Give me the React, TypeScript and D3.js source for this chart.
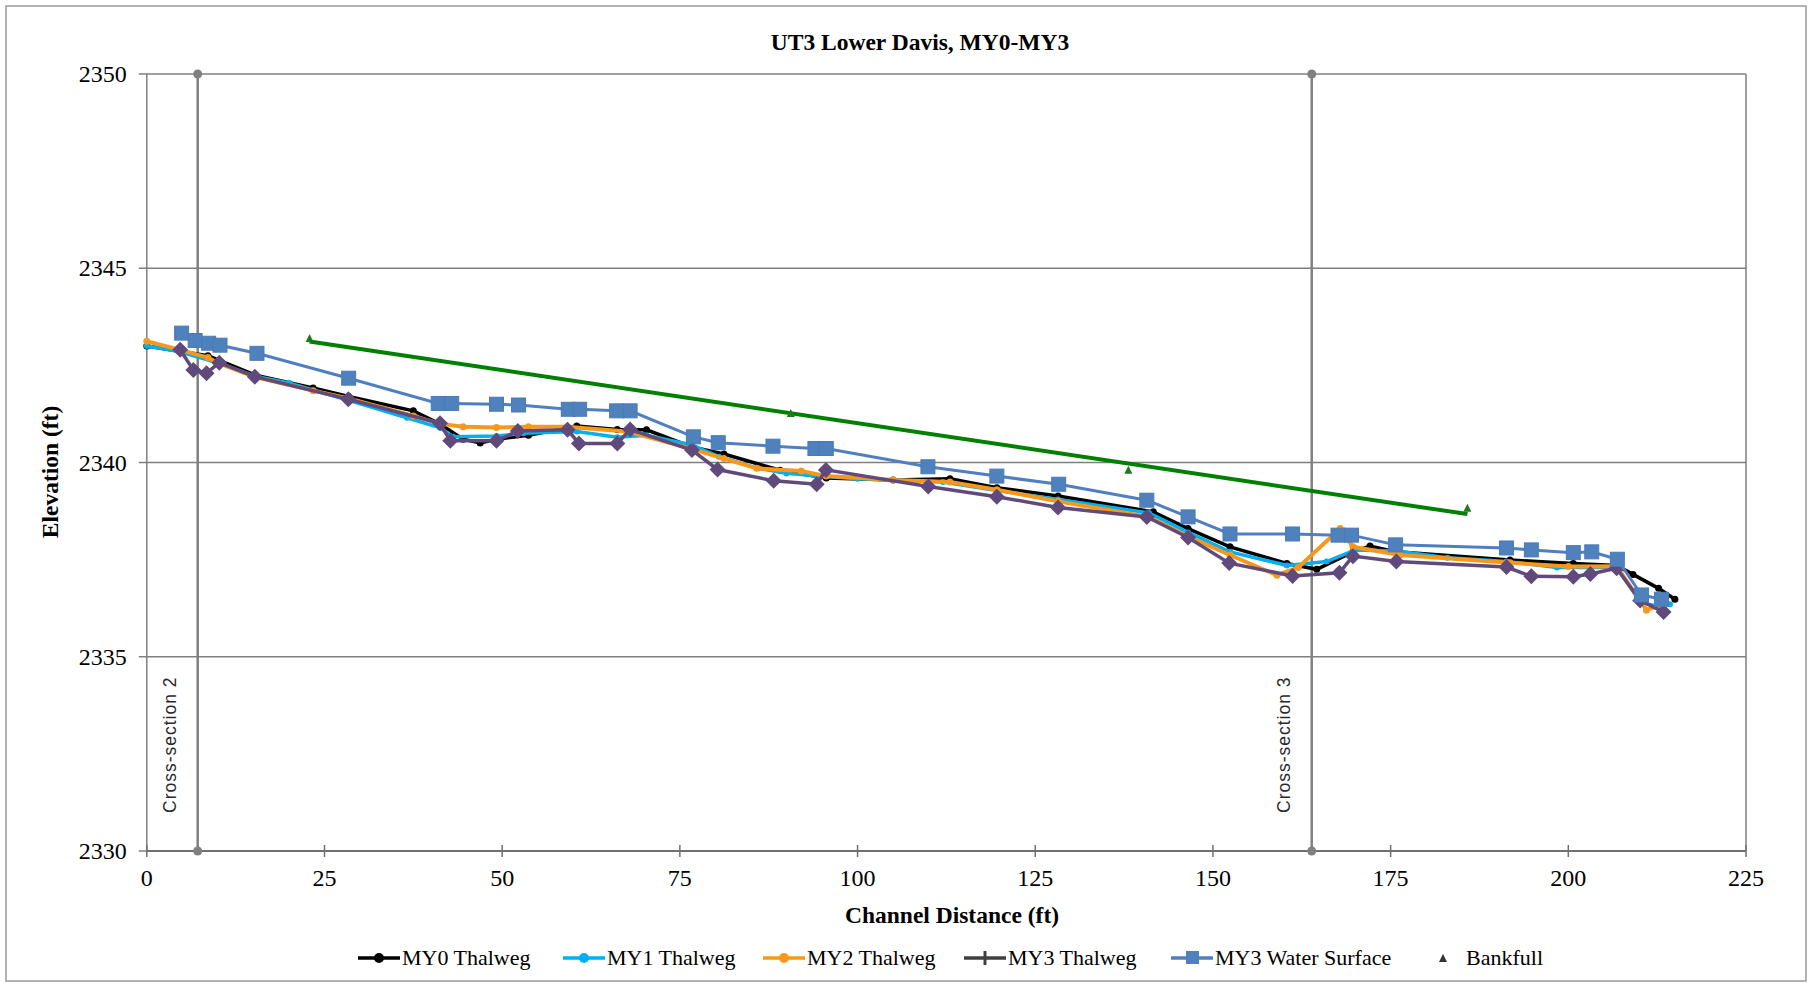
import * as d3 from 'd3';

// MY0 Thalweg [distance, elevation]
const my0Thalweg: [number, number][] = [
  [0, 2343.0], [8.6, 2342.75], [15.3, 2342.25], [23.4, 2341.92], [28.4, 2341.7], [37.5, 2341.33],
  [41.2, 2341.0], [44.5, 2340.6], [46.9, 2340.5], [49.2, 2340.6], [53.7, 2340.7], [60.5, 2340.94],
  [66.2, 2340.85], [70.3, 2340.84], [76.7, 2340.4], [81.2, 2340.22], [89.1, 2339.8], [95.6, 2339.6],
  [105.0, 2339.55], [113.0, 2339.58], [119.6, 2339.35], [128.2, 2339.14], [141.6, 2338.73],
  [146.5, 2338.3], [152.4, 2337.83], [160.4, 2337.4], [164.6, 2337.25], [169.7, 2337.7],
  [172.1, 2337.85], [175.8, 2337.7], [191.8, 2337.49], [200.7, 2337.4], [206.8, 2337.35],
  [209.1, 2337.12], [212.7, 2336.76], [215.0, 2336.48],
];

const my1Thalweg: [number, number][] = [
  [0, 2343.0], [4.7, 2342.85], [10.2, 2342.55], [15.2, 2342.22], [20, 2342.05], [28.4, 2341.6],
  [36.6, 2341.15], [41.2, 2340.9], [43.1, 2340.66], [49.2, 2340.68], [53, 2340.75], [60.5, 2340.8],
  [66.2, 2340.65], [70.3, 2340.7], [76.7, 2340.45], [80.5, 2340.15], [86, 2339.85], [90, 2339.72],
  [94.3, 2339.65], [100, 2339.58], [105, 2339.55], [112, 2339.5], [119.6, 2339.28], [128.2, 2339.05],
  [141, 2338.7], [146.5, 2338.2], [152.4, 2337.7], [160.4, 2337.35], [166, 2337.45], [170, 2337.75],
  [175.8, 2337.72], [183, 2337.55], [191.3, 2337.45], [198.4, 2337.3], [206.8, 2337.3],
  [210.2, 2336.4], [212.5, 2336.3], [214.3, 2336.35],
];

const my2Thalweg: [number, number][] = [
  [0, 2343.12], [4.7, 2342.9], [8.6, 2342.7], [10.2, 2342.55], [15.2, 2342.2], [23.4, 2341.85],
  [28.4, 2341.65], [37.5, 2341.2], [41.2, 2341.0], [44.5, 2340.92], [49.2, 2340.9], [53.7, 2340.92],
  [59.1, 2340.92], [67.5, 2340.8], [76.7, 2340.35], [81.2, 2340.1], [85.8, 2339.85], [92.1, 2339.78],
  [95.6, 2339.65], [105, 2339.55], [113, 2339.5], [119.6, 2339.3], [128.2, 2339.0], [141, 2338.6],
  [146.5, 2338.1], [152.4, 2337.62], [159, 2337.1], [162, 2337.3], [167.9, 2338.3], [169.7, 2337.83],
  [176.3, 2337.62], [191.8, 2337.42], [200, 2337.32], [206.8, 2337.33], [211, 2336.2], [213.2, 2336.35],
];

const my3Thalweg: [number, number][] = [
  [4.7, 2342.9], [6.55, 2342.38], [8.4, 2342.3], [10.2, 2342.57], [15.2, 2342.21], [28.35, 2341.63],
  [41.25, 2341.01], [42.7, 2340.56], [49.2, 2340.56], [52.2, 2340.81], [59.2, 2340.84], [60.8, 2340.49],
  [66.2, 2340.49], [68.0, 2340.85], [76.7, 2340.32], [80.3, 2339.82], [88.2, 2339.53], [94.25, 2339.44],
  [95.55, 2339.81], [109.95, 2339.38], [119.6, 2339.12], [128.2, 2338.84], [140.7, 2338.6],
  [146.5, 2338.07], [152.3, 2337.41], [161.2, 2337.08], [167.8, 2337.16], [169.7, 2337.59],
  [175.8, 2337.45], [191.3, 2337.31], [194.8, 2337.07], [200.7, 2337.06], [203.1, 2337.13],
  [206.8, 2337.28], [210.1, 2336.45], [213.4, 2336.15],
];

const my3WaterSurface: [number, number][] = [
  [4.9, 2343.33], [6.8, 2343.14], [8.7, 2343.07], [10.3, 2343.02], [15.5, 2342.81], [28.4, 2342.17],
  [41.0, 2341.52], [42.9, 2341.52], [49.2, 2341.5], [52.3, 2341.48], [59.3, 2341.37], [60.9, 2341.37],
  [66.1, 2341.33], [68.0, 2341.33], [76.9, 2340.66], [80.4, 2340.51], [88.1, 2340.42], [94.0, 2340.36],
  [95.6, 2340.36], [109.9, 2339.89], [119.6, 2339.65], [128.3, 2339.44], [140.7, 2339.03],
  [146.5, 2338.6], [152.4, 2338.16], [161.2, 2338.16], [167.6, 2338.13], [169.5, 2338.13],
  [175.7, 2337.88], [191.3, 2337.8], [194.8, 2337.75], [200.7, 2337.68], [203.3, 2337.7],
  [206.9, 2337.51], [210.3, 2336.59], [213.1, 2336.48],
];

const bankfull: [number, number][] = [
  [22.9, 2343.18], [90.6, 2341.25], [138.1, 2339.79], [185.8, 2338.81],
];

const crossSections = [
  { name: 'Cross-section 2', x: 7.16 },
  { name: 'Cross-section 3', x: 163.9 },
];

const xTicks = [0, 25, 50, 75, 100, 125, 150, 175, 200, 225];
const yTicks = [2330, 2335, 2340, 2345, 2350];

const legendItems = [
  { label: 'MY0 Thalweg', color: '#000000', marker: 'circle', x: 358 },
  { label: 'MY1 Thalweg', color: '#00b0f0', marker: 'circle', x: 563 },
  { label: 'MY2 Thalweg', color: '#f7981d', marker: 'circle', x: 763 },
  { label: 'MY3 Thalweg', color: '#404040', marker: 'plus', x: 964 },
  { label: 'MY3 Water Surface', color: '#4f7fc0', marker: 'square', x: 1171 },
];

const W = 1813;
const H = 983;
const serif = { fontFamily: "'Liberation Serif', 'Times New Roman', Times, serif" };
const sans = { fontFamily: "'Liberation Sans', Arial, sans-serif" };

export default function App() {
  const x = d3.scaleLinear().domain([0, 225]).range([146.8, 1746]);
  const y = d3.scaleLinear().domain([2330, 2350]).range([851, 74]);
  const line = d3.line<[number, number]>().x(d => x(d[0])).y(d => y(d[1]));

  // linear trendline through bankfull points
  const mx = d3.mean(bankfull, d => d[0])!;
  const my = d3.mean(bankfull, d => d[1])!;
  const slope = d3.sum(bankfull, d => (d[0] - mx) * (d[1] - my)) / d3.sum(bankfull, d => (d[0] - mx) ** 2);
  const bx0 = d3.min(bankfull, d => d[0])!;
  const bx1 = d3.max(bankfull, d => d[0])!;
  const trend: [number, number][] = [[bx0, my + slope * (bx0 - mx)], [bx1, my + slope * (bx1 - mx)]];

  const diamond = (cx: number, cy: number, r: number) =>
    `M${cx},${cy - r}L${cx + r},${cy}L${cx},${cy + r}L${cx - r},${cy}Z`;
  const tri = (cx: number, cy: number, r: number) =>
    `M${cx},${cy - r}L${cx + r * 0.8},${cy + r * 0.6}L${cx - r * 0.8},${cy + r * 0.6}Z`;

  return (
    <svg width={W} height={H} style={{ position: 'absolute', left: 0, top: 0, background: '#fff' }}>
      <rect x={6} y={6} width={1800} height={975} fill="#fff" stroke="#9a9a9a" strokeWidth={1.5} />

      <text x={920} y={50} textAnchor="middle" style={serif} fontWeight="bold" fontSize={23.5}>
        UT3 Lower Davis, MY0-MY3
      </text>

      {/* grid */}
      {yTicks.map(t => (
        <g key={t}>
          <line x1={x(0) - 8} x2={x(225)} y1={y(t)} y2={y(t)} stroke="#7f7f7f" strokeWidth={1.5} />
          <text x={x(0) - 20} y={y(t) + 8} textAnchor="end" style={serif} fontSize={24}>{t}</text>
        </g>
      ))}
      <line x1={x(0)} x2={x(0)} y1={y(2350)} y2={y(2330)} stroke="#7f7f7f" strokeWidth={1.5} />
      <line x1={x(225)} x2={x(225)} y1={y(2350)} y2={y(2330)} stroke="#7f7f7f" strokeWidth={1.5} />
      <line x1={x(0)} x2={x(225)} y1={y(2330)} y2={y(2330)} stroke="#707070" strokeWidth={2} />
      {xTicks.map(t => (
        <g key={t}>
          <line x1={x(t)} x2={x(t)} y1={y(2330) - 6} y2={y(2330) + 6} stroke="#707070" strokeWidth={1.5} />
          <text x={x(t)} y={y(2330) + 35} textAnchor="middle" style={serif} fontSize={24}>{t}</text>
        </g>
      ))}

      {/* cross-sections */}
      {crossSections.map(c => (
        <g key={c.name}>
          <line x1={x(c.x)} x2={x(c.x)} y1={y(2350)} y2={y(2330)} stroke="#808080" strokeWidth={2.5} />
          <circle cx={x(c.x)} cy={y(2350)} r={4.5} fill="#808080" />
          <circle cx={x(c.x)} cy={y(2330)} r={4.5} fill="#808080" />
          <text
            transform={`translate(${x(c.x) - 22},${813}) rotate(-90)`}
            style={sans}
            fontSize={17.5}
            letterSpacing={1}
            fill="#2a2a2a"
          >
            {c.name}
          </text>
        </g>
      ))}

      {/* bankfull trend */}
      <path d={line(trend)!} fill="none" stroke="#008000" strokeWidth={4} />

      {/* MY0 */}
      <path d={line(my0Thalweg)!} fill="none" stroke="#000" strokeWidth={3.5} />
      {my0Thalweg.map((d, i) => <circle key={i} cx={x(d[0])} cy={y(d[1])} r={3.5} fill="#000" />)}

      {/* MY1 */}
      <path d={line(my1Thalweg)!} fill="none" stroke="#00b0f0" strokeWidth={3.5} />
      {my1Thalweg.map((d, i) => <circle key={i} cx={x(d[0])} cy={y(d[1])} r={3} fill="#00b0f0" />)}

      {/* MY2 */}
      <path d={line(my2Thalweg)!} fill="none" stroke="#f7981d" strokeWidth={4} />
      {my2Thalweg.map((d, i) => <circle key={i} cx={x(d[0])} cy={y(d[1])} r={3.5} fill="#f7981d" />)}

      {/* MY3 */}
      <path d={line(my3Thalweg)!} fill="none" stroke="#604a7b" strokeWidth={3.5} />
      {my3Thalweg.map((d, i) => <path key={i} d={diamond(x(d[0]), y(d[1]), 8)} fill="#604a7b" />)}

      {/* MY3 water surface */}
      <path d={line(my3WaterSurface)!} fill="none" stroke="#4f7fc0" strokeWidth={3} />
      {my3WaterSurface.map((d, i) => (
        <rect key={i} x={x(d[0]) - 7} y={y(d[1]) - 7} width={14} height={14} fill="#4f81bd" stroke="#4a7bb7" />
      ))}

      {/* bankfull points */}
      {bankfull.map((d, i) => <path key={i} d={tri(x(d[0]), y(d[1]), 5)} fill="#1f7a1f" />)}

      <text x={952} y={923} textAnchor="middle" style={serif} fontWeight="bold" fontSize={23.5}>
        Channel Distance (ft)
      </text>
      <text transform="translate(58,472) rotate(-90)" textAnchor="middle" style={serif} fontWeight="bold" fontSize={23.5}>
        Elevation (ft)
      </text>

      {/* legend */}
      {legendItems.map(it => (
        <g key={it.label}>
          <line x1={it.x} x2={it.x + 42} y1={958} y2={958} stroke={it.color} strokeWidth={3.5} />
          {it.marker === 'circle' && <circle cx={it.x + 21} cy={958} r={5} fill={it.color} />}
          {it.marker === 'plus' && <line x1={it.x + 21} x2={it.x + 21} y1={951} y2={965} stroke={it.color} strokeWidth={3} />}
          {it.marker === 'square' && <rect x={it.x + 15} y={951} width={13} height={13} fill="#4f81bd" />}
          <text x={it.x + 44} y={965} style={serif} fontSize={22}>{it.label}</text>
        </g>
      ))}
      <path d={tri(1443, 959, 5)} fill="#333" />
      <text x={1466} y={965} style={serif} fontSize={22}>Bankfull</text>
    </svg>
  );
}
